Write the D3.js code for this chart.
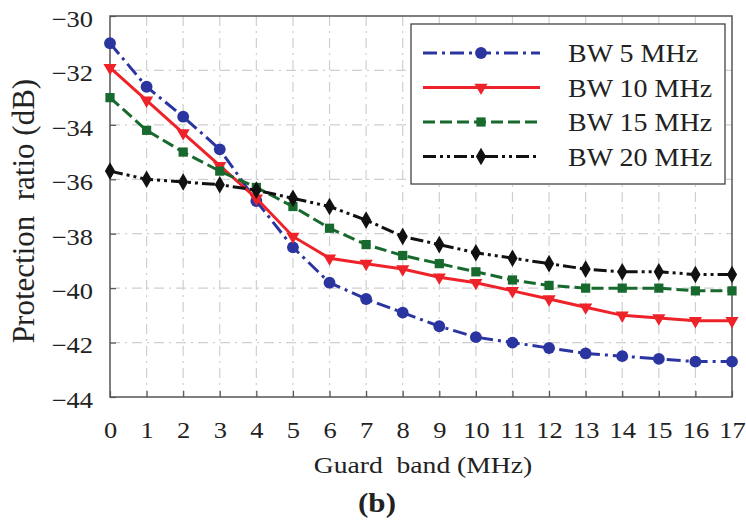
<!DOCTYPE html>
<html>
<head>
<meta charset="utf-8">
<script src="https://cdnjs.cloudflare.com/ajax/libs/d3/7.8.5/d3.min.js"></script>
<style>
  body { margin: 0; background: #fff; }
  svg { display: block; }
  text { font-family: "Liberation Serif", "DejaVu Serif", serif; fill: #222; }
</style>
</head>
<body>
<svg id="chart" width="746" height="521"></svg>
<script>
// guard band values (MHz)
var guard = d3.range(0, 18)

var bw5 = [-31.0, -32.6, -33.7, -34.9, -36.8, -38.5, -39.8, -40.4, -40.9, -41.4, -41.8, -42.0, -42.2, -42.4, -42.5, -42.6, -42.7, -42.7]
var bw10 = [-31.9, -33.1, -34.3, -35.5, -36.7, -38.1, -38.9, -39.1, -39.3, -39.6, -39.8, -40.1, -40.4, -40.7, -41.0, -41.1, -41.2, -41.2]
var bw15 = [-33.0, -34.2, -35.0, -35.7, -36.3, -37.0, -37.8, -38.4, -38.8, -39.1, -39.4, -39.7, -39.9, -40.0, -40.0, -40.0, -40.1, -40.1]
var bw20 = [-35.7, -36.0, -36.1, -36.2, -36.4, -36.7, -37.0, -37.5, -38.1, -38.4, -38.7, -38.9, -39.1, -39.3, -39.4, -39.4, -39.5, -39.5]

var seriesNames = ['BW 5 MHz', 'BW 10 MHz', 'BW 15 MHz', 'BW 20 MHz']
var yTicks = [-30, -32, -34, -36, -38, -40, -42, -44]

var series = [
  { name: seriesNames[0], values: bw5, color: '#2b35a0', dash: '14,5,3,5', symbol: d3.symbolCircle, size: 110 },
  { name: seriesNames[1], values: bw10, color: '#ee2229', dash: null, symbol: 'tri', size: 75 },
  { name: seriesNames[2], values: bw15, color: '#17692e', dash: '12,5', symbol: d3.symbolSquare, size: 85 },
  { name: seriesNames[3], values: bw20, color: '#111111', dash: '13,4,3,4,3,4', symbol: d3.symbolDiamond, size: 90 }
]

// the source picture is stretched sideways, so horizontal text gets a x-scale
var stretch = 1.15

var margin = { left: 110, top: 16, right: 14, bottom: 124 }
var width = 746 - margin.left - margin.right
var height = 521 - margin.top - margin.bottom

var svg = d3.select('#chart')
var g = svg.append('g').attr('transform', 'translate(' + margin.left + ',' + margin.top + ')')

var x = d3.scaleLinear().domain([0, 17]).range([0, width])
var y = d3.scaleLinear().domain([-44, -30]).range([height, 0])

// grid (dash-dot, light gray)
g.append('g').selectAll('line').data(guard.slice(1, 17)).enter().append('line')
  .attr('x1', function(d) { return x(d) }).attr('x2', function(d) { return x(d) })
  .attr('y1', 0).attr('y2', height)
  .attr('stroke', '#cfcfcf').attr('stroke-width', 1.2).attr('stroke-dasharray', '10,5,2,5')
g.append('g').selectAll('line').data(yTicks.slice(1, 7)).enter().append('line')
  .attr('y1', function(d) { return y(d) }).attr('y2', function(d) { return y(d) })
  .attr('x1', 0).attr('x2', width)
  .attr('stroke', '#cfcfcf').attr('stroke-width', 1.2).attr('stroke-dasharray', '10,5,2,5')

// axes
var xAxis = g.append('g').attr('transform', 'translate(0,' + height + ')')
  .call(d3.axisBottom(x).tickValues(guard).tickSize(-6).tickFormat(d3.format('d')))
var yAxis = g.append('g')
  .call(d3.axisLeft(y).tickValues(yTicks).tickSize(-6).tickFormat(function(d) { return '\u2212' + Math.abs(d) }))
;[xAxis, yAxis].forEach(function(a) {
  a.select('.domain').remove()
  a.selectAll('line').attr('stroke', '#555').attr('stroke-width', 1.2)
  a.selectAll('text').attr('font-size', 23).style('font-family', '"Liberation Serif", serif').attr('fill', '#222')
    .attr('transform', 'scale(' + stretch + ',1)')
})
xAxis.selectAll('text').attr('y', 41).attr('dy', null)
yAxis.selectAll('text').attr('x', -17 / stretch).attr('dy', '0.45em')

// frame
g.append('rect').attr('width', width).attr('height', height)
  .attr('fill', 'none').attr('stroke', '#555').attr('stroke-width', 1.5)

function marker(sel, s) {
  if (s.symbol === 'tri') {
    sel.attr('d', d3.symbol().type(d3.symbolTriangle).size(s.size)).attr('transform', function(d) {
      return 'translate(' + d[0] + ',' + d[1] + ') rotate(180)'
    })
  } else {
    sel.attr('d', d3.symbol().type(s.symbol).size(s.size)).attr('transform', function(d) {
      return 'translate(' + d[0] + ',' + d[1] + ')'
    })
  }
  sel.attr('fill', s.color)
}

var line = d3.line().x(function(d, i) { return x(guard[i]) }).y(function(d) { return y(d) })

series.forEach(function(s) {
  g.append('path').datum(s.values)
    .attr('d', line)
    .attr('fill', 'none').attr('stroke', s.color).attr('stroke-width', 3)
    .attr('stroke-dasharray', s.dash)
  g.append('g').selectAll('path').data(s.values.map(function(v, i) { return [x(guard[i]), y(v)] }))
    .enter().append('path').call(marker, s)
})

// legend
var lg = svg.append('g').attr('transform', 'translate(411,24)')
lg.append('rect').attr('width', 314).attr('height', 160)
  .attr('fill', '#fff').attr('stroke', '#444').attr('stroke-width', 1.3)
series.forEach(function(s, i) {
  var ly = 29 + i * 34.5
  lg.append('line').attr('x1', 12).attr('x2', 129).attr('y1', ly).attr('y2', ly)
    .attr('stroke', s.color).attr('stroke-width', 3).attr('stroke-dasharray', s.dash)
  lg.append('path').datum([70, ly]).call(marker, s)
  lg.append('text').attr('transform', 'translate(157,' + (ly + 9) + ') scale(1.12,1)')
    .attr('font-size', 25).text(s.name)
})

// axis titles
svg.append('text').attr('transform', 'translate(34,211) rotate(-90)')
  .attr('text-anchor', 'middle').attr('font-size', 31).attr('xml:space', 'preserve')
  .text('Protection  ratio (dB)')
svg.append('text').attr('transform', 'translate(' + (margin.left + width / 2 + 2) + ',473) scale(' + stretch + ',1)')
  .attr('text-anchor', 'middle').attr('font-size', 24).attr('xml:space', 'preserve')
  .text('Guard  band (MHz)')
svg.append('text').attr('transform', 'translate(377,512) scale(' + stretch + ',1)')
  .attr('text-anchor', 'middle').attr('font-size', 27).attr('font-weight', 'bold').attr('fill', '#000')
  .text('(b)')
</script>
</body>
</html>
